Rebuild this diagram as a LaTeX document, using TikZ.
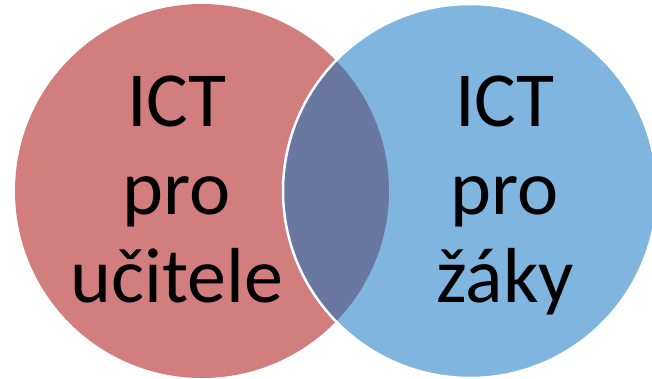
\documentclass[tikz,border=0pt]{standalone}
\usepackage{fontspec}
\setmainfont{Carlito}
\definecolor{teachred}{HTML}{D27E7E}
\definecolor{pupilblue}{HTML}{7FB5DE}
\definecolor{bothblue}{HTML}{6878A0}

\begin{document}
\begin{tikzpicture}[x=1pt, y=-1pt,
  bigtext/.style={align=center, inner sep=0pt, anchor=base,
    font=\fontsize{78}{88}\selectfont}]
  \useasboundingbox (0,0) rectangle (652,378);
  % the two sets
  \coordinate (teach) at (202,191);
  \coordinate (pupil) at (470,191);
  \fill[teachred] (teach) circle [radius=187pt];
  \fill[pupilblue] (pupil) circle [radius=187pt];
  \begin{scope}
    \clip (teach) circle [radius=187pt];
    \fill[bothblue] (pupil) circle [radius=187pt];
  \end{scope}
  \draw[white, line width=2.5pt] (pupil) circle [radius=187pt];
  % labels
  \node[bigtext] (teachtext) at (177,302) {ICT\\pro\\učitele};
  \node[bigtext] (pupiltext) at (505,302) {ICT\\pro\\žáky};
\end{tikzpicture}
\end{document}
